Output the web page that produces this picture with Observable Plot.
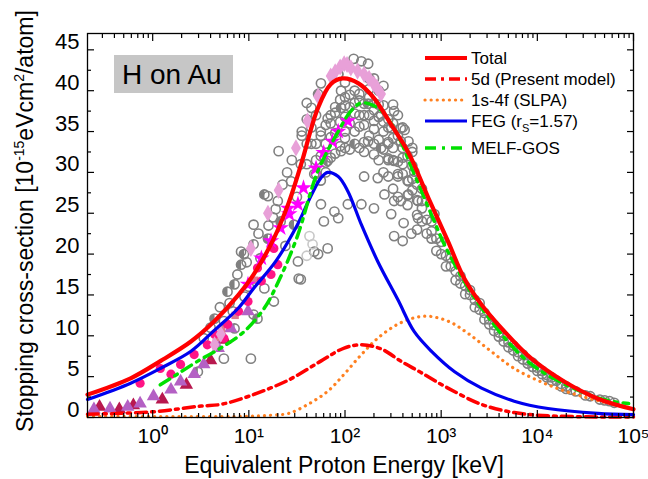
<!DOCTYPE html>
<html><head><meta charset="utf-8">
<script src="https://cdn.jsdelivr.net/npm/d3@7"></script>
<script src="https://cdn.jsdelivr.net/npm/@observablehq/plot@0.6"></script>
<style>
body{margin:0;background:#fff;}
#wrap{width:648px;height:479px;font-family:"Liberation Sans",Arial,sans-serif;}
</style></head><body><div id="wrap"></div>
<script>
// ---------- curves (energy keV, stopping cross-section) ----------
const totalE = [0.21,0.59,1.2,2.5,4.4,7.8,11.2,18,26,35,52,71,95,138,200,300,457,741,1175,1740,2630,4570,8700,19000,42700,100000];
const totalV = [2.8,4.8,6.9,9.3,11.8,15.0,17.5,21.8,26.3,31.0,37.8,40.8,41.5,40.9,39.1,35.9,32.4,26.8,21.6,17.0,13.8,10.5,7.2,4.4,2.3,1.0];
const d5E = [0.21,1,3.2,5.1,10,26,56,98,148,237,380,617,1175,2630,5750,13000,100000];
const d5V = [0.4,0.7,1.4,1.6,2.6,4.6,6.9,8.5,8.9,8.4,6.9,5.5,3.6,1.6,0.6,0.2,0.05];
const slpaE = [0.21,10,18,26,41,66,98,148,219,380,676,1175,1900,3300,5750,12900,28800,63000,100000];
const slpaV = [0.15,0.15,0.3,0.5,1.6,3.2,5.3,7.7,9.7,11.6,12.4,11.8,10.3,8.1,6.0,4.0,2.6,1.6,1.1];
const fegE = [0.21,0.59,1.2,2.5,4.4,7.8,11.2,19,32,45,56,66,85,107,148,219,355,525,794,1380,2630,5750,12900,42700,100000];
const fegV = [2.2,4.2,6.0,8.1,10.7,13.4,15.8,19.1,23.6,27.3,29.3,30.0,29.5,27.7,23.6,19.1,14.4,10.5,8.1,5.6,3.6,2.0,1.1,0.5,0.35];
const melfE = [1.2,1.8,2.95,5.1,8.9,14.5,21,32,52,85,115,148,219,324,525,794,1175,2630,8700,42700,89000];
const melfV = [4.0,5.3,6.9,8.5,10.5,13.4,17.0,22.2,30.1,35.0,37.5,38.5,37.9,35.4,29.8,24.8,20.3,13.4,6.5,2.4,1.7];

// ---------- experimental points ----------
const grayE = [2.95,3.4,4.4,5.5,5.5,6.0,7.1,7.1,8.3,8.3,8.9,10.5,11.2,11.2,11.2,12.3,14.5,14.5,15.8,15.8,18.2,20.4,21.4,27.5,29.5,32.4,33,34.7,34.7,44.7,44.7,47.9,47.9,52.5,52.5,56.2,56.2,60.3,66,66,66,77.6,85,85,91,91,91,107,123,126,126,148,148,158,174,174,174,200,200,219,237,237,251,257,282,302,302,324,324,324,324,355,380,380,380,398,407,457,457,457,490,525,575,575,794,851,1000,
  40,50,63,79,100,158,200,251,316,398,501,631,56,71,89,112,141,178,224,282,100,126,158,200,251,
  50,63,79,100,158,200,251,316,398,501,631,71,100,141,200,282,398,
  85,100,178,224,316,355,417,501,
  282,282,355,355,447,447,562,562,708,708,891,891,1122,1122,1413,1413,1778,1778,2239,2239,2818,2818,3548,3548,4467,4467,5623,5623,7079,7079,8913,8913,11220,11220,14125,14125,17783,17783,22387,31623,44668,63096];
const grayV = [5.6,9.7,12.1,11.8,7.2,15.4,10.9,16.3,18.7,20.3,20.0,7.2,12.6,21.2,23.6,12.1,15.8,27.3,21.9,27.1,14.2,32.6,24.0,28.9,23.6,19.1,17.0,16.9,31.0,33.5,37.9,20.3,29.8,20.0,39.6,40.9,26.1,24.0,20.7,31.4,36.6,25.2,24.4,42.0,32.6,37.9,40.0,26.1,43.9,33.5,38.5,43.6,26.1,29.5,43.3,33.8,38.4,41.5,25.6,29.3,37.1,33.0,40.6,27.3,31.7,35.4,24.9,37.5,31.4,26.5,22.2,29.8,35.4,33.8,26.5,21.6,23.8,33.8,28.9,27.3,22.5,30.1,26.5,24.4,21.9,24.9,20.0,
  31.0,33.5,35.8,37.3,38.2,38.4,37.6,36.2,34.2,31.8,29.2,26.5,35.0,37.0,38.9,39.5,39.6,39.2,38.3,36.5,36.8,37.2,37.0,36.3,35.0,
  29.8,31.2,32.3,33.0,33.7,33.5,32.8,31.5,29.8,27.8,25.6,34.3,35.0,35.6,35.3,33.7,33.0,
  42.0,41.0,41.5,40.0,38.3,37.0,35.2,32.5,
  33.5,31.5,31.3,29.5,29.0,27.2,26.6,24.8,24.2,22.5,21.9,20.4,19.8,18.5,17.9,16.8,16.1,15.1,14.4,13.5,12.8,12.0,11.3,10.6,10.0,9.3,8.8,8.2,7.7,7.1,6.7,6.2,5.7,5.3,4.9,4.5,4.1,3.8,3.4,2.7,2.2,1.8];
// denser parts of the experimental cloud
const gray2E = [56,56,63,71,71,79,79,89,89,100,100,112,112,112,126,126,141,141,141,158,158,178,178,178,200,200,224,224,224,251,251,282,282,316,316,316,355,355,398,398,447,447,501,501,562,562,631,631,
  794,794,1000,1259,1259,1585,1585,1995,1995,2512,2512,3162,3162,3981,3981,5012,5012,6310,6310,7943,7943,10000,10000,12589,12589,15849,19953,19953,25119,35481,50119,56234,
  4.0,5.0,6.3,7.6,9.5,10,12.6,13.2,17.8,20,22.4,24,25,28,31.6,35.5,40,
  35.5,40,40,44.7,50,50,56,63,6.8,9.0,16,19];
const gray2V = [34.5,32.0,33.5,36.0,31.8,34.8,38.0,36.2,33.2,39.2,34.2,36.0,32.8,38.0,40.0,35.0,37.0,33.0,38.8,35.8,32.5,37.0,34.5,40.2,38.5,32.2,36.8,34.0,31.5,38.2,30.0,35.5,29.5,36.0,33.0,28.0,34.5,27.0,35.5,31.0,32.0,26.0,30.8,33.0,28.5,23.0,28.0,24.0,
  24.0,22.8,21.5,18.5,19.5,16.4,17.3,15.0,15.6,13.2,14.0,12.0,11.4,10.4,9.9,9.2,8.6,8.0,7.5,7.0,6.6,6.1,5.7,5.2,4.9,4.5,3.8,3.5,3.2,2.6,2.1,2.0,
  11.0,13.5,14.0,17.5,19.0,16.0,22.5,19.5,24.5,26.5,28.5,21.0,30.0,31.5,27.0,34.5,36.5,
  35.0,33.5,38.5,35.5,37.0,31.5,29.0,30.0,13.0,14.8,23.5,25.5];
const halfE = [2.95,4.4,6.0,7.1,7.1,8.3,8.9,11.2,12.3,14.5,15.8,21.4,29.5,52.5,66,91,126,174,237];
const halfV = [5.6,12.1,15.4,10.9,16.3,18.7,20.0,21.2,12.1,27.3,21.9,24.0,23.6,39.6,31.4,37.9,33.5,38.4,33.0];
const lightE = [42.7,46,40];
const lightV = [22.2,21.2,19.8];
const diamondE = [4.4,5.1,10.5,15.8,20.4,30.9,40.7,52.5,71,79,89,98,105,115,135,158,178,200,214,237];
const diamondV = [8.9,10.2,20.7,25.0,27.8,33.0,36.3,39.3,41.8,42.3,42.9,43.3,43.2,42.8,42.4,42.0,41.5,40.8,40.4,39.6];
const starE = [9.8,13.5,17,21.4,25.7,26.3,32.4,37,50,60,74,85,107];
const starV = [16.3,19.5,21.6,23.2,25.6,24.9,26.1,28.1,30.5,32.4,33.8,35.0,36.3];
const pinkE = [0.74,1.2,1.55,1.95,2.7,3.7,4.4,5.5,6.0,7.8,9.8,12.3,13.5,17,18.2,20];
const pinkV = [4.2,6.0,5.3,6.5,7.7,8.9,10.2,9.7,11.4,13.0,14.2,18.3,16.7,17.5,20.7,18.7];
const triE = [0.245,0.36,0.55,0.74,1.02,1.55,1.95,2.7,3.4,4.8,6.5,9.8];
const triV = [1.0,1.1,1.3,1.7,2.6,3.4,4.4,5.3,6.5,8.5,10.9,13.0];
const tri2E = [0.28,0.45,0.63,1.26,2.24,4.0,5.6];
const tri2V = [1.3,1.0,1.5,2.2,4.0,7.0,9.5];
const sqE = [4.6,5.2,7.2,11.5];
const sqV = [9.8,10.8,12.5,16.8];

// ---------- axis ticks ----------
const xTicks = [1,10,100,1000,10000,100000];
const xTickLabels = ["10\u2070","10\u00B9","10\u00B2","10\u00B3","10\u2074","10\u2075"];
const yTicks = [0,5,10,15,20,25,30,35,40,45];

const xMinor = [];
[0.1,1,10,100,1000,10000].forEach(d => {for (let k = 2; k <= 9; k++) {const v = k*d; if (v >= 0.21 && v <= 1e5) xMinor.push(v);}});
const yMinor = d3.range(2.5, 47, 5);

const pts = (E, V) => E.map((e, i) => ({e, v: V[i]}));
const halfDisc = {draw(ctx, size) {const r = Math.sqrt(size / Math.PI); ctx.moveTo(0, -r); ctx.arc(0, 0, r, -Math.PI/2, Math.PI/2, true); ctx.closePath();}};

const font = "'Liberation Sans', Arial, sans-serif";
const lineOpts = {x: "e", y: "v", curve: "catmull-rom", strokeLinejoin: "round"};
const circ = {x: "e", y: "v", r: 4.6, stroke: "#808080", strokeWidth: 1.6, fill: "none"};

const chart = Plot.plot({
  width: 648, height: 479,
  marginLeft: 87, marginRight: 15, marginTop: 33, marginBottom: 62,
  style: {fontFamily: font, background: "white", color: "black"},
  x: {type: "log", domain: [0.21, 1e5]},
  y: {domain: [0, 47]},
  marks: [
    // experimental data
    Plot.dot(pts(grayE, grayV), circ),
    Plot.dot(pts(gray2E, gray2V), circ),
    Plot.dot(pts(halfE, halfV), {x: "e", y: "v", r: 4.6, symbol: halfDisc, fill: "#808080"}),
    Plot.dot(pts(lightE, lightV), {x: "e", y: "v", r: 4.6, stroke: "#c8c8c8", strokeWidth: 1.6, fill: "none"}),
    Plot.dot(pts(tri2E, tri2V), {x: "e", y: "v", r: 5, symbol: "triangle", fill: "#b8184e"}),
    Plot.dot(pts(triE, triV), {x: "e", y: "v", r: 5, symbol: "triangle", fill: "#b460c4"}),
    Plot.dot(pts(sqE, sqV), {x: "e", y: "v", r: 4.2, symbol: "square", fill: "#e07890"}),
    Plot.dot(pts(pinkE, pinkV), {x: "e", y: "v", r: 4.6, fill: "#ff1485"}),
    Plot.dot(pts(diamondE, diamondV), {x: "e", y: "v", r: 5.2, symbol: "diamond", fill: "#e8a0d8"}),
    Plot.dot(pts(starE, starV), {x: "e", y: "v", r: 5.2, symbol: "star", fill: "#ff00ff"}),
    // theory curves
    Plot.line(pts(slpaE, slpaV), {...lineOpts, stroke: "#ff8020", strokeWidth: 3.2, strokeDasharray: "0.1,6", strokeLinecap: "round"}),
    Plot.line(pts(d5E, d5V), {...lineOpts, stroke: "#ff0000", strokeWidth: 3.5, strokeDasharray: "11,5,3,5"}),
    Plot.line(pts(fegE, fegV), {...lineOpts, stroke: "#0000ee", strokeWidth: 3.2}),
    Plot.line(pts(melfE, melfV), {...lineOpts, stroke: "#00e000", strokeWidth: 3.5, strokeDasharray: "11,6,3,6"}),
    Plot.line(pts(totalE, totalV), {...lineOpts, stroke: "#ff0000", strokeWidth: 4.2}),
    // frame + axes
    Plot.frame({stroke: "black", strokeWidth: 1.3}),
    Plot.axisX({anchor: "bottom", ticks: xTicks, tickSize: -7, fill: "none", label: null, strokeWidth: 1.2}),
    Plot.axisX({anchor: "bottom", ticks: xMinor, tickSize: -4, fill: "none", label: null, strokeWidth: 1.2}),
    Plot.axisX({anchor: "top", ticks: xTicks, tickSize: -7, fill: "none", label: null, strokeWidth: 1.2}),
    Plot.axisX({anchor: "top", ticks: xMinor, tickSize: -4, fill: "none", label: null, strokeWidth: 1.2}),
    Plot.axisX({anchor: "bottom", ticks: xTicks, tickSize: 0, tickPadding: 11, label: null, fontSize: 21,
      tickFormat: d => xTickLabels[xTicks.indexOf(d)]}),
    Plot.axisY({anchor: "left", ticks: yTicks, tickSize: -7, fill: "none", label: null, strokeWidth: 1.2}),
    Plot.axisY({anchor: "left", ticks: yMinor, tickSize: -4, fill: "none", label: null, strokeWidth: 1.2}),
    Plot.axisY({anchor: "right", ticks: yTicks, tickSize: -7, fill: "none", label: null, strokeWidth: 1.2}),
    Plot.axisY({anchor: "right", ticks: yMinor, tickSize: -4, fill: "none", label: null, strokeWidth: 1.2}),
    Plot.axisY({anchor: "left", ticks: yTicks, tickSize: 0, tickPadding: 8, dy: -8, label: null, fontSize: 22})
  ]
});

document.getElementById("wrap").appendChild(chart);
const svg = d3.select(chart).style("overflow", "visible");
const g = svg.append("g").attr("font-family", font).attr("fill", "black").attr("text-anchor", "start");

// axis titles
g.append("text").attr("x", 344).attr("y", 473).attr("text-anchor", "middle").attr("font-size", 23)
  .text("Equivalent Proton Energy [keV]");
const yl = g.append("text").attr("transform", "translate(33,221) rotate(-90)").attr("text-anchor", "middle").attr("font-size", 23);
yl.append("tspan").text("Stopping cross-section [10");
yl.append("tspan").attr("font-size", 14).attr("dy", -9).text("-15");
yl.append("tspan").attr("dy", 9).text("eVcm");
yl.append("tspan").attr("font-size", 14).attr("dy", -9).text("2");
yl.append("tspan").attr("dy", 9).text("/atom]");

// title box
g.append("rect").attr("x", 114).attr("y", 55).attr("width", 119).attr("height", 38).attr("fill", "#c6c6c6");
g.append("text").attr("x", 122).attr("y", 84).attr("font-size", 28).text("H on Au");

// legend
const legendNames = ["Total", "5d (Present model)", "1s-4f (SLPA)", "FEG", "MELF-GOS"];
const legendStyles = [
  {stroke: "#ff0000", w: 4.2, dash: null, cap: "butt"},
  {stroke: "#ff0000", w: 3.5, dash: "11,5,3,5", cap: "butt"},
  {stroke: "#ff8020", w: 3.2, dash: "0.1,6", cap: "round"},
  {stroke: "#0000ee", w: 3.2, dash: null, cap: "butt"},
  {stroke: "#00e000", w: 3.5, dash: "11,6,3,6", cap: "butt"}
];
const legendY = [58, 79, 100, 121, 148];
legendNames.forEach((name, i) => {
  const s = legendStyles[i];
  g.append("line").attr("x1", 425).attr("x2", 467).attr("y1", legendY[i]).attr("y2", legendY[i])
    .attr("stroke", s.stroke).attr("stroke-width", s.w).attr("stroke-dasharray", s.dash).attr("stroke-linecap", s.cap);
  const t = g.append("text").attr("x", 471).attr("y", legendY[i] + 6).attr("font-size", 17);
  if (name === "FEG") {
    t.append("tspan").text("FEG (r");
    t.append("tspan").attr("font-size", 11).attr("dy", 5).text("S");
    t.append("tspan").attr("dy", -5).text("=1.57)");
  } else t.text(name);
});
</script></body></html>
